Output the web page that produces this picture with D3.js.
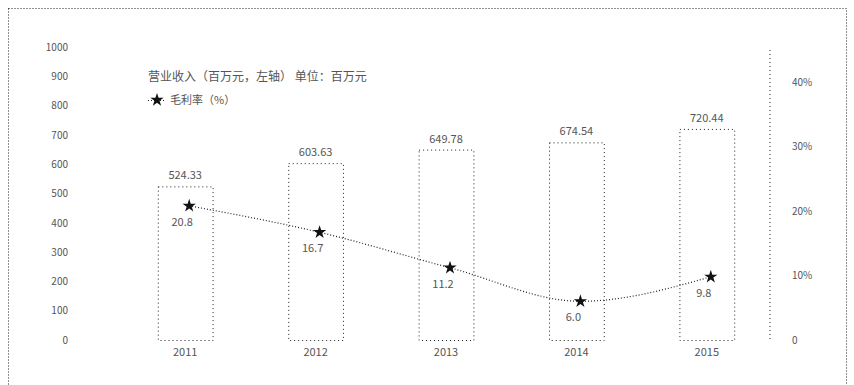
<!DOCTYPE html>
<html>
<head>
<meta charset="utf-8">
<script src="https://cdn.jsdelivr.net/npm/d3@7"></script>
<style>
  body { margin: 0; background: #fff; }
  text { font-family: "Noto Sans CJK SC", "DejaVu Sans", sans-serif; fill: #555; }
</style>
</head>
<body>
<svg id="chart" width="854" height="385"></svg>
<script>
// data
const years = ["2011", "2012", "2013", "2014", "2015"];
const revenue = [524.33, 603.63, 649.78, 674.54, 720.44];
const margin = [20.8, 16.7, 11.2, 6.0, 9.8];
const leftTicks = [0, 100, 200, 300, 400, 500, 600, 700, 800, 900, 1000];
const rightTicks = [0, 10, 20, 30, 40];
const legendBar = "营业收入（百万元，左轴）   单位：百万元";
const legendLine = "毛利率（%）";

const svg = d3.select("#chart");
const dots = "1,3";

// outer frame
svg.append("rect")
  .attr("x", 8.5).attr("y", 8.5)
  .attr("width", 838).attr("height", 385)
  .attr("fill", "none")
  .attr("stroke", "#222")
  .attr("stroke-dasharray", "1,2");

const x = d3.scaleBand()
  .domain(years)
  .range([120, 772])
  .paddingInner(0.58)
  .paddingOuter(0.29);

const yL = d3.scaleLinear().domain([0, 1000]).range([340, 47]);
const yR = d3.scaleLinear().domain([0, 40]).range([340, 82]);

// left axis (labels only)
const axL = svg.append("g")
  .attr("transform", "translate(68,0)")
  .call(d3.axisLeft(yL).tickValues(leftTicks).tickSize(0).tickPadding(0)
    .tickFormat(d3.format("d")));
axL.select(".domain").remove();
axL.selectAll("text").style("font-size", "10px");

// right axis with a dotted rule
svg.append("line")
  .attr("x1", 770).attr("x2", 770)
  .attr("y1", 50).attr("y2", 340)
  .attr("stroke", "#222")
  .attr("stroke-dasharray", "1,3");

const axR = svg.append("g")
  .attr("transform", "translate(792,0)")
  .call(d3.axisRight(yR).tickValues(rightTicks).tickSize(0).tickPadding(0)
    .tickFormat(d => d === 0 ? "0" : d + "%"));
axR.select(".domain").remove();
axR.selectAll("text").style("font-size", "10px");

// x axis labels
const axX = svg.append("g")
  .attr("transform", "translate(0,348)")
  .call(d3.axisBottom(x).tickSize(0).tickPadding(0));
axX.select(".domain").remove();
axX.selectAll("text").style("font-size", "11px");

// bars: dotted outline, white inside
svg.append("g").selectAll("rect")
  .data(years)
  .join("rect")
  .attr("x", d => x(d) + 0.5)
  .attr("y", (d, i) => yL(revenue[i]) + 0.5)
  .attr("width", x.bandwidth())
  .attr("height", (d, i) => yL(0) - yL(revenue[i]))
  .attr("fill", "none")
  .attr("stroke", "#222")
  .attr("stroke-dasharray", dots);

svg.append("g").selectAll("text")
  .data(years)
  .join("text")
  .attr("x", d => x(d) + x.bandwidth() / 2)
  .attr("y", (d, i) => yL(revenue[i]) - 7)
  .attr("text-anchor", "middle")
  .style("font-size", "11px")
  .text((d, i) => revenue[i].toFixed(2));

// margin line
const cx = d => x(d) + x.bandwidth() / 2 + 4;
const line = d3.line()
  .x(d => cx(d))
  .y((d, i) => yR(margin[i]))
  .curve(d3.curveMonotoneX);

svg.append("path")
  .datum(years)
  .attr("d", line)
  .attr("fill", "none")
  .attr("stroke", "#222")
  .attr("stroke-width", 1.2)
  .attr("stroke-dasharray", "1,2");

const star = d3.symbol().type(d3.symbolStar).size(55);
svg.append("g").selectAll("path")
  .data(years)
  .join("path")
  .attr("transform", (d, i) => `translate(${cx(d)},${yR(margin[i])})`)
  .attr("d", star)
  .attr("fill", "#111");

svg.append("g").selectAll("text")
  .data(years)
  .join("text")
  .attr("x", d => cx(d) - 7)
  .attr("y", (d, i) => yR(margin[i]) + 20)
  .attr("text-anchor", "middle")
  .style("font-size", "11px")
  .text((d, i) => margin[i].toFixed(1));

// legend
const lg = svg.append("g").attr("transform", "translate(148,0)");
lg.append("text")
  .attr("x", 0).attr("y", 81)
  .style("font-size", "12px")
  .text(legendBar);
lg.append("line")
  .attr("x1", 0).attr("x2", 18)
  .attr("y1", 100.5).attr("y2", 100.5)
  .attr("stroke", "#222")
  .attr("stroke-dasharray", "1,2");
lg.append("path")
  .attr("transform", "translate(9,100)")
  .attr("d", star)
  .attr("fill", "#111");
lg.append("text")
  .attr("x", 22).attr("y", 104)
  .style("font-size", "11px")
  .text(legendLine);
</script>
</body>
</html>
